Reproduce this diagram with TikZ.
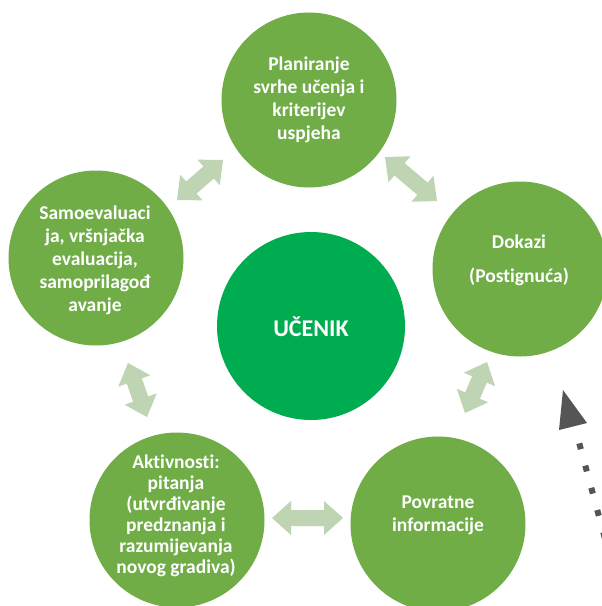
\documentclass[tikz,border=0pt]{standalone}
\usepackage{fontspec}
\setmainfont[Ligatures={NoCommon}]{Carlito}
\usetikzlibrary{calc}
\definecolor{outergreen}{RGB}{112,173,71}
\definecolor{centergreen}{RGB}{0,172,80}
\definecolor{arrowgreen}{RGB}{190,212,178}
\definecolor{darkgray}{RGB}{85,85,85}
\newcommand\hl{19pt}
\newcommand\hw{17pt}
\newcommand\sw{8pt}
\newcommand\dblarr[2]{%
  \fill[arrowgreen] (#1) -- ($(#1)!\hl!(#2)!\hw!90:(#2)$) -- ($(#1)!\hl!(#2)!\sw!90:(#2)$)
    -- ($(#2)!\hl!(#1)!\sw!-90:(#1)$) -- ($(#2)!\hl!(#1)!\hw!-90:(#1)$) -- (#2)
    -- ($(#2)!\hl!(#1)!\hw!90:(#1)$) -- ($(#2)!\hl!(#1)!\sw!90:(#1)$)
    -- ($(#1)!\hl!(#2)!\sw!-90:(#2)$) -- ($(#1)!\hl!(#2)!\hw!-90:(#2)$) -- cycle;}
\tikzset{
  outer/.style={circle, fill=outergreen, minimum size=175pt, inner sep=0pt},
  centre/.style={circle, fill=centergreen, minimum size=188pt, inner sep=0pt},
  label text/.style={text=white, align=center, inner sep=0pt,
    font=\bfseries\fontsize{19.5}{23}\selectfont},
}
\begin{document}
\begin{tikzpicture}[x=1pt,y=-1pt]
\useasboundingbox (0,0) rectangle (602,606);
\clip (0,0) rectangle (602,606);
\fill[white] (0,0) rectangle (602,606);
% circles
\node[outer] (top) at (309,100) {};
\node[outer] (right) at (520,269) {};
\node[outer] (left) at (96,258) {};
\node[outer] (bl) at (177,520) {};
\node[outer] (br) at (438,524) {};
\node[centre] (ucenik) at (311,326) {};
% texts
\node[label text] (ttop) at (309,100) {Planiranje\\svrhe učenja i\\kriterijev\\uspjeha};
\node[label text] (tright) at (519,260) {Dokazi\\[11pt](Postignuća)};
\node[label text] (tleft) at (95,260) {Samoevaluaci\\ja, vršnjačka\\evaluacija,\\samoprilagođ\\avanje};
\node[label text, font=\bfseries\fontsize{19.5}{21}\selectfont] (tbl) at (176,516) {Aktivnosti:\\pitanja\\(utvrđivanje\\predznanja i\\razumijevanja\\novog gradiva)};
\node[label text] (tbr) at (438,515) {Povratne\\informacije};
\node[label text, font=\bfseries\fontsize{24}{28}\selectfont] (tu) at (311,327) {UČENIK};
% block arrows
\coordinate (a1) at (177,200); \coordinate (b1) at (223,160);
\coordinate (a2) at (385,157); \coordinate (b2) at (437,201);
\coordinate (a3) at (128,363); \coordinate (b3) at (147,417);
\coordinate (a4) at (487,362); \coordinate (b4) at (465,413);
\coordinate (a5) at (272,518); \coordinate (b5) at (343,518);
\dblarr{a1}{b1}
\dblarr{a2}{b2}
\dblarr{a3}{b3}
\dblarr{a4}{b4}
\dblarr{a5}{b5}
% dotted arrow
\coordinate (dtail) at (604.8,538);
\coordinate (dhead) at (576.5,433);
\coordinate (tip) at (563,390);
\coordinate (hb1) at (559,430);
\coordinate (hb2) at (587,423);
\draw[darkgray, line width=6pt, dash pattern=on 6pt off 17pt] (dtail) -- (dhead);
\fill[darkgray] (tip) -- (hb1) -- (hb2) -- cycle;
\end{tikzpicture}
\end{document}
